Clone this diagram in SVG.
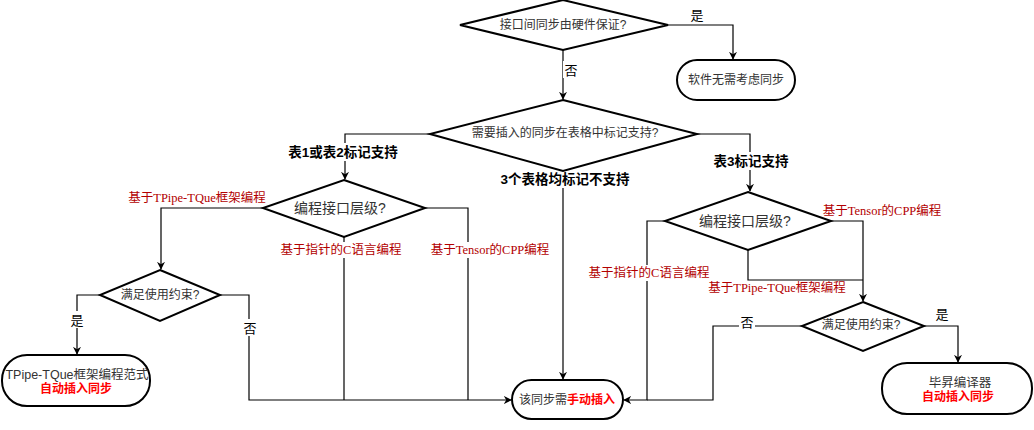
<svg xmlns="http://www.w3.org/2000/svg" width="1034" height="430" viewBox="0 0 1034 430">
<defs>
<marker id="arr" viewBox="0 0 10 10" refX="9" refY="5" markerWidth="8" markerHeight="8" orient="auto" markerUnits="userSpaceOnUse">
<path d="M0,0 L10,5 L0,10 L3,5 Z" fill="#000"/>
</marker>
<style>
.dia{fill:#fff;stroke:#000;stroke-width:2}
.term{fill:#fff;stroke:#000;stroke-width:2}
.ln{fill:none;stroke:#000;stroke-width:1.2}
.t{font-family:"Liberation Sans","Noto Sans CJK SC",sans-serif;font-size:12px;fill:#333;text-anchor:middle;dominant-baseline:central}
.big{font-size:14px}
.yn{font-family:"Liberation Sans","Noto Sans CJK SC",sans-serif;font-size:13px;fill:#000;text-anchor:middle;dominant-baseline:central}
.bl{font-family:"Liberation Sans","Noto Sans CJK SC",sans-serif;font-size:13.5px;font-weight:bold;fill:#000;text-anchor:middle;dominant-baseline:central}
.rl{font-family:"Liberation Serif","Noto Sans CJK SC",serif;font-size:12.5px;fill:#B20000;text-anchor:middle;dominant-baseline:central}
.red{fill:#FF0000;font-weight:bold}
.bg{fill:#fff}
</style>
</defs>

<g id="connectors">
<path class="ln" d="M668,25 H733 V59" marker-end="url(#arr)"/>
<path class="ln" d="M563,50 V99" marker-end="url(#arr)"/>
<path class="ln" d="M430,134 H345 V179" marker-end="url(#arr)"/>
<path class="ln" d="M697,134 H750 V191" marker-end="url(#arr)"/>
<path class="ln" d="M563,171 V379" marker-end="url(#arr)"/>
<path class="ln" d="M263,208 H161 V269" marker-end="url(#arr)"/>
<path class="ln" d="M344,237 V400"/>
<path class="ln" d="M425,208 H468 V400"/>
<path class="ln" d="M100,295 H77 V354" marker-end="url(#arr)"/>
<path class="ln" d="M220,295 H249 V400 H511" marker-end="url(#arr)"/>
<path class="ln" d="M665,221 H647 V400 H624" marker-end="url(#arr)"/>
<path class="ln" d="M831,221 H863 V301" marker-end="url(#arr)"/>
<path class="ln" d="M748,250 V280 H863"/>
<path class="ln" d="M802,326 H713 V400 H647"/>
<path class="ln" d="M924,326 H958 V362" marker-end="url(#arr)"/>
</g>

<g id="labels">
<rect class="bg" x="690" y="6" width="15" height="17"/><text class="yn" x="697" y="15">是</text>
<rect class="bg" x="563" y="61" width="16" height="17"/><text class="yn" x="571" y="70">否</text>
<rect class="bg" x="284" y="143" width="118" height="18"/><text class="bl" x="343" y="152">表1或表2标记支持</text>
<rect class="bg" x="711" y="152" width="80" height="18"/><text class="bl" x="751" y="161">表3标记支持</text>
<rect class="bg" x="495" y="170" width="140" height="18"/><text class="bl" x="565" y="179">3个表格均标记不支持</text>
<rect class="bg" x="130" y="190" width="134" height="16"/><text class="rl" x="197" y="198">基于TPipe-TQue框架编程</text>
<rect class="bg" x="282" y="242" width="118" height="16"/><text class="rl" x="341" y="250">基于指针的C语言编程</text>
<rect class="bg" x="432" y="242" width="118" height="16"/><text class="rl" x="490" y="250">基于Tensor的CPP编程</text>
<text class="rl" x="882" y="211">基于Tensor的CPP编程</text>
<rect class="bg" x="590" y="265" width="118" height="16"/><text class="rl" x="649" y="273">基于指针的C语言编程</text>
<text class="rl" x="777" y="288">基于TPipe-TQue框架编程</text>
<rect class="bg" x="70" y="311" width="15" height="17"/><text class="yn" x="77" y="320">是</text>
<rect class="bg" x="242" y="319" width="16" height="17"/><text class="yn" x="250" y="328">否</text>
<text class="yn" x="942" y="314">是</text>
<rect class="bg" x="739" y="313" width="16" height="17"/><text class="yn" x="747" y="322">否</text>
</g>

<g id="d1">
<polygon class="dia" points="563,0 668,25 563,50 460,25"/>
<text class="t" x="563" y="25">接口间同步由硬件保证?</text>
</g>
<g id="t1">
<rect class="term" x="677" y="60" width="118" height="40" rx="20" ry="20"/>
<text class="t" x="736" y="80">软件无需考虑同步</text>
</g>
<g id="d2">
<polygon class="dia" points="563,100 697,134 563,171 430,134"/>
<text class="t" x="565" y="133">需要插入的同步在表格中标记支持?</text>
</g>
<g id="d3">
<polygon class="dia" points="344,180 425,208 344,237 263,208"/>
<text class="t big" x="340" y="208">编程接口层级?</text>
</g>
<g id="d4">
<polygon class="dia" points="748,192 831,221 748,250 665,221"/>
<text class="t big" x="745" y="221">编程接口层级?</text>
</g>
<g id="d5">
<polygon class="dia" points="160,270 220,295 160,321 100,295"/>
<text class="t" x="160" y="295">满足使用约束?</text>
</g>
<g id="d6">
<polygon class="dia" points="863,302 924,326 863,351 802,326"/>
<text class="t" x="861" y="325">满足使用约束?</text>
</g>
<g id="t2">
<rect class="term" x="2" y="355" width="148" height="51" rx="25" ry="25"/>
<text class="t" x="77" y="375" style="font-size:12.5px">TPipe-TQue框架编程范式</text>
<text class="t red" x="76" y="389">自动插入同步</text>
</g>
<g id="t3">
<rect class="term" x="512" y="380" width="111" height="39" rx="19.5" ry="19.5"/>
<text class="t" x="567" y="400">该同步需<tspan class="red">手动插入</tspan></text>
</g>
<g id="t4">
<rect class="term" x="882" y="363" width="150" height="51" rx="25" ry="25"/>
<text class="t" x="960" y="383" style="font-size:12.5px">毕昇编译器</text>
<text class="t red" x="958" y="397">自动插入同步</text>
</g>
</svg>
